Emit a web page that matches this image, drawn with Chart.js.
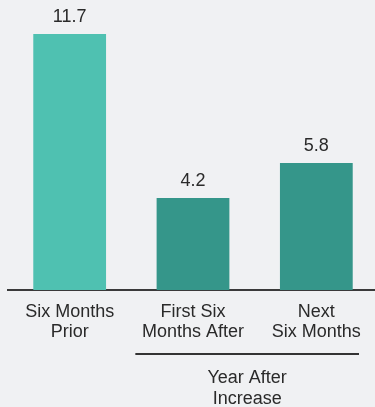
<!DOCTYPE html>
<html lang="en">
<head>
  <meta charset="UTF-8">
  <title>Six Months Prior vs. Year After Increase</title>
  <script src="https://cdn.jsdelivr.net/npm/chart.js"></script>
  <style>
    html, body {
      margin: 0;
      padding: 0;
      background: #f0f1f3;
      overflow: hidden;
    }
    #wrap {
      width: 378px;
      height: 407px;
    }
  </style>
</head>
<body>
  <div id="wrap">
    <canvas id="chart" width="378" height="407"></canvas>
  </div>

  <script>
    const categories = [
      ['Six Months', 'Prior'],
      ['First Six', 'Months After'],
      ['Next', 'Six Months']
    ];
    const values = [11.7, 4.2, 5.8];
    const barColors = ['#4fc1b1', '#35968a', '#35968a'];

    // second-level label under the last two bars
    const groupLabel = ['Year After', 'Increase'];
    const groupFrom = 1;
    const groupTo = 2;

    const FONT = '"Liberation Sans", Arial, sans-serif';

    // value printed above each bar
    const valueLabels = {
      id: 'valueLabels',
      afterDatasetsDraw(chart) {
        const ctx = chart.ctx;
        const meta = chart.getDatasetMeta(0);
        ctx.save();
        ctx.font = '18px ' + FONT;
        ctx.fillStyle = '#2a2a2a';
        ctx.textAlign = 'center';
        ctx.textBaseline = 'alphabetic';
        meta.data.forEach((bar, i) => {
          ctx.fillText(values[i].toFixed(1), bar.x, bar.y - 12);
        });
        ctx.restore();
      }
    };

    // bracket line and group text below the category labels
    const groupAxis = {
      id: 'groupAxis',
      afterDraw(chart) {
        const ctx = chart.ctx;
        const x = chart.scales.x;
        const half = (x.getPixelForValue(1) - x.getPixelForValue(0)) / 2;
        const left = x.getPixelForValue(groupFrom) - half + 4;
        const right = x.getPixelForValue(groupTo) + half - 19;
        const lineY = chart.chartArea.bottom + 64;
        ctx.save();
        ctx.strokeStyle = '#333333';
        ctx.lineWidth = 2;
        ctx.beginPath();
        ctx.moveTo(left, lineY);
        ctx.lineTo(right, lineY);
        ctx.stroke();
        ctx.font = '18px ' + FONT;
        ctx.fillStyle = '#2a2a2a';
        ctx.textAlign = 'center';
        ctx.textBaseline = 'middle';
        const cx = (left + right) / 2;
        groupLabel.forEach((line, i) => {
          ctx.fillText(line, cx, lineY + 24 + i * 21);
        });
        ctx.restore();
      }
    };

    new Chart(document.getElementById('chart'), {
      type: 'bar',
      data: {
        labels: categories,
        datasets: [{
          data: values,
          backgroundColor: barColors,
          borderWidth: 0,
          categoryPercentage: 1,
          barPercentage: 0.59
        }]
      },
      options: {
        responsive: false,
        animation: false,
        layout: { padding: { left: 8, right: 0, top: 0, bottom: 0 } },
        plugins: {
          legend: { display: false },
          tooltip: { enabled: false }
        },
        scales: {
          y: {
            display: false,
            min: 0,
            max: 13.25
          },
          x: {
            grid: { display: false, drawTicks: false },
            border: { display: true, color: '#3a3a3a', width: 2 },
            ticks: {
              color: '#2a2a2a',
              padding: 12,
              maxRotation: 0,
              autoSkip: false,
              font: { family: FONT, size: 18, lineHeight: 1.12 }
            },
            afterFit(scale) {
              scale.height = 117;
            }
          }
        }
      },
      plugins: [valueLabels, groupAxis]
    });
  </script>
</body>
</html>
